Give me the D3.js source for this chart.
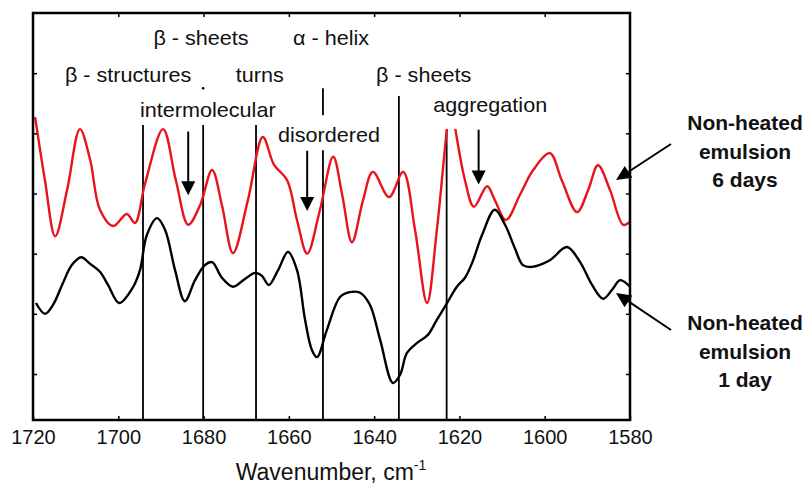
<!DOCTYPE html>
<html><head><meta charset="utf-8">
<script src="https://cdn.jsdelivr.net/npm/d3@7"></script>
<style>body{margin:0;background:#fff}svg{display:block}text{font-family:"Liberation Sans",Arial,Helvetica,sans-serif}</style>
</head><body><svg id="c" width="806" height="490"></svg>
<script>
// ---- data ----
const xTicks = [1720,1700,1680,1660,1640,1620,1600,1580];
const yTicks = [1,2,3,4,5,6];
const redWn = [1719.5,1717.2,1714.8,1712.0,1709.0,1706.6,1704.3,1701.2,1698.0,1696.1,1693.7,1689.5,1686.5,1683.6,1680.8,1678.0,1675.7,1673.1,1669.6,1666.1,1663.5,1660.4,1658.1,1655.7,1652.7,1649.6,1647.5,1645.2,1642.6,1640.3,1636.5,1633.2,1630.4,1627.6,1625.3,1622.9,1622.0,1621.0,1618.7,1616.6,1613.5,1611.7,1609.1,1605.8,1602.7,1598.8,1596.0,1592.4,1589.8,1587.5,1584.7,1581.6,1580.0];
const redAbs = [5.27,4.22,3.29,4.06,5.07,4.56,3.73,3.46,3.66,3.51,4.17,5.07,4.22,3.48,3.81,4.39,3.81,3.01,3.89,4.94,4.48,4.22,3.56,3.00,3.73,4.61,3.98,3.19,3.89,4.36,3.94,4.36,3.39,2.18,3.39,5.09,5.55,5.09,4.22,3.78,4.12,3.89,3.56,3.98,4.39,4.67,4.22,3.69,4.06,4.47,4.06,3.48,3.53];
const blackWn = [1719.3,1717.2,1715.3,1713.0,1710.9,1708.7,1706.6,1704.3,1702.4,1699.8,1696.5,1694.9,1693.3,1690.9,1689.0,1686.7,1684.4,1682.0,1679.7,1678.0,1675.7,1673.1,1670.3,1667.9,1666.3,1664.7,1662.5,1660.2,1658.1,1656.2,1654.6,1653.4,1651.1,1648.0,1645.7,1643.3,1641.0,1638.6,1635.6,1633.9,1632.3,1629.7,1627.4,1625.3,1622.9,1620.6,1618.7,1617.0,1614.7,1611.7,1609.3,1607.0,1605.1,1603.0,1598.8,1594.8,1591.7,1588.9,1586.3,1584.2,1582.3,1580.0];
const blackAbs = [2.18,2.00,2.15,2.51,2.81,2.94,2.83,2.70,2.48,2.18,2.45,2.73,3.31,3.59,3.39,2.73,2.21,2.56,2.81,2.86,2.60,2.45,2.58,2.68,2.63,2.48,2.73,3.03,2.73,1.90,1.40,1.28,1.73,2.28,2.36,2.35,2.15,1.57,0.85,0.99,1.35,1.53,1.65,1.90,2.18,2.45,2.60,2.85,3.31,3.73,3.48,3.09,2.81,2.78,2.89,3.11,2.86,2.48,2.25,2.40,2.56,2.45];
// band marker lines: wavenumber, top, bottom (absorbance units)
const markerWn  = [1694.2,1680.1,1667.7,1652.0,1652.0,1634.2,1623.0];
const markerTop = [5.14,5.14,5.14,5.75,4.72,5.62,5.06];
const markerBot = [0.24,0.24,0.24,5.30,0.24,0.24,0.24];
// band labels
const bandLabels = ["β - sheets","α - helix","β - structures","turns","β - sheets","intermolecular","disordered","aggregation"];
const bandLabelWn = [1680.6,1650.1,1697.7,1666.8,1628.4,1679.0,1650.6,1612.8];
const bandLabelAbs = [6.47,6.47,5.85,5.85,5.85,5.27,4.85,5.35];
// down arrows
const arrowWn = [1683.6,1655.7,1615.5];
const arrowTop = [5.03,4.71,5.06];
const arrowTip = [3.97,3.71,4.15];
const seriesNames = [["Non-heated","emulsion","6 days"],["Non-heated","emulsion","1 day"]];

// ---- chart ----
const svg = d3.select("#c");
const L=33,R=630,T=13,B=420;
const x = d3.scaleLinear().domain([1720,1580]).range([L,R]);
const y = d3.scaleLinear().domain([0.2355,7]).range([B,T]);

svg.append("rect").attr("width",806).attr("height",490).attr("fill","#fff");

// marker lines
markerWn.forEach((w,i)=>{
  svg.append("line").attr("x1",x(w)).attr("x2",x(w)).attr("y1",y(markerTop[i])).attr("y2",y(markerBot[i]))
    .attr("stroke","#000").attr("stroke-width",1.8);
});
svg.append("circle").attr("cx",x(1680.1)).attr("cy",y(5.75)).attr("r",1.3).attr("fill","#000");

const line = d3.line().x(d=>x(d[0])).y(d=>y(d[1])).curve(d3.curveCatmullRom.alpha(0.5));
svg.append("path").datum(redWn.map((w,i)=>[w,redAbs[i]])).attr("d",line)
  .attr("fill","none").attr("stroke","#e8141c").attr("stroke-width",2.4);
svg.append("path").datum(blackWn.map((w,i)=>[w,blackAbs[i]])).attr("d",line)
  .attr("fill","none").attr("stroke","#000").attr("stroke-width",2.4);

// white box behind "aggregation" label (covers clipped peak)
svg.append("rect").attr("x",x(1623.8)).attr("y",y(6.45)).attr("width",x(1597)-x(1623.8)).attr("height",y(5.09)-y(6.45)+1).attr("fill","#fff");

// labels
bandLabels.forEach((t,i)=>{
  svg.append("text").attr("transform",`translate(${x(bandLabelWn[i])},${y(bandLabelAbs[i])}) scale(1.08,1)`)
    .attr("text-anchor","middle").attr("font-size",20).attr("fill","#111").text(t);
});

// down arrows
arrowWn.forEach((w,i)=>{
  const xx=x(w), y0=y(arrowTop[i]), y1=y(arrowTip[i]);
  svg.append("line").attr("x1",xx).attr("x2",xx).attr("y1",y0).attr("y2",y1-12).attr("stroke","#000").attr("stroke-width",2);
  svg.append("path").attr("d",`M${xx-7},${y1-14}L${xx+7},${y1-14}L${xx},${y1}Z`).attr("fill","#000");
});

// frame
svg.append("rect").attr("x",L).attr("y",T).attr("width",R-L).attr("height",B-T)
  .attr("fill","none").attr("stroke","#000").attr("stroke-width",2.5);

// axes ticks (inward)
const xa = d3.axisBottom(x).tickValues(xTicks).tickSizeInner(-4).tickSizeOuter(0).tickPadding(10).tickFormat(d3.format("d"));
const gx = svg.append("g").attr("transform",`translate(0,${B})`).call(xa);
gx.select(".domain").remove();
gx.selectAll("text").attr("font-size",20).attr("fill","#111").attr("font-family","Liberation Sans, Arial, sans-serif");
gx.selectAll("line").attr("stroke-width",1.5);
const xt = d3.axisTop(x).tickValues(xTicks.slice(1,-1)).tickSizeInner(-4).tickSizeOuter(0).tickFormat("");
const gxt = svg.append("g").attr("transform",`translate(0,${T})`).call(xt);
gxt.select(".domain").remove(); gxt.selectAll("line").attr("stroke-width",1.5);
const yl = d3.axisLeft(y).tickValues(yTicks).tickSizeInner(-4).tickSizeOuter(0).tickFormat("");
const gyl = svg.append("g").attr("transform",`translate(${L},0)`).call(yl);
gyl.select(".domain").remove(); gyl.selectAll("line").attr("stroke-width",1.5);
const yr = d3.axisRight(y).tickValues(yTicks).tickSizeInner(-4).tickSizeOuter(0).tickFormat("");
const gyr = svg.append("g").attr("transform",`translate(${R},0)`).call(yr);
gyr.select(".domain").remove(); gyr.selectAll("line").attr("stroke-width",1.5);

// x-axis title
const tt = svg.append("text").attr("x",331).attr("y",480).attr("text-anchor","middle").attr("font-size",23).attr("fill","#111");
tt.append("tspan").text("Wavenumber, cm");
tt.append("tspan").attr("dy",-10).attr("font-size",14).text("-1");

// series labels and arrows
const labelY = [130,330];
seriesNames.forEach((lines,k)=>{
  lines.forEach((t,j)=>{
    svg.append("text").attr("x",745).attr("y",labelY[k]+j*28.5).attr("text-anchor","middle")
      .attr("font-size",21).attr("font-weight","bold").attr("fill","#111").text(t);
  });
});
function diagArrow(x0,y0,x1,y1){
  const a=Math.atan2(y1-y0,x1-x0), hl=15, hw=7;
  const bx=x1-hl*Math.cos(a), by=y1-hl*Math.sin(a);
  svg.append("line").attr("x1",x0).attr("y1",y0).attr("x2",bx).attr("y2",by).attr("stroke","#000").attr("stroke-width",2);
  svg.append("path").attr("d",`M${x1},${y1}L${bx+hw*Math.sin(a)},${by-hw*Math.cos(a)}L${bx-hw*Math.sin(a)},${by+hw*Math.cos(a)}Z`).attr("fill","#000");
}
diagArrow(671,144,616,180);
diagArrow(671,330,616,293);
</script></body></html>
